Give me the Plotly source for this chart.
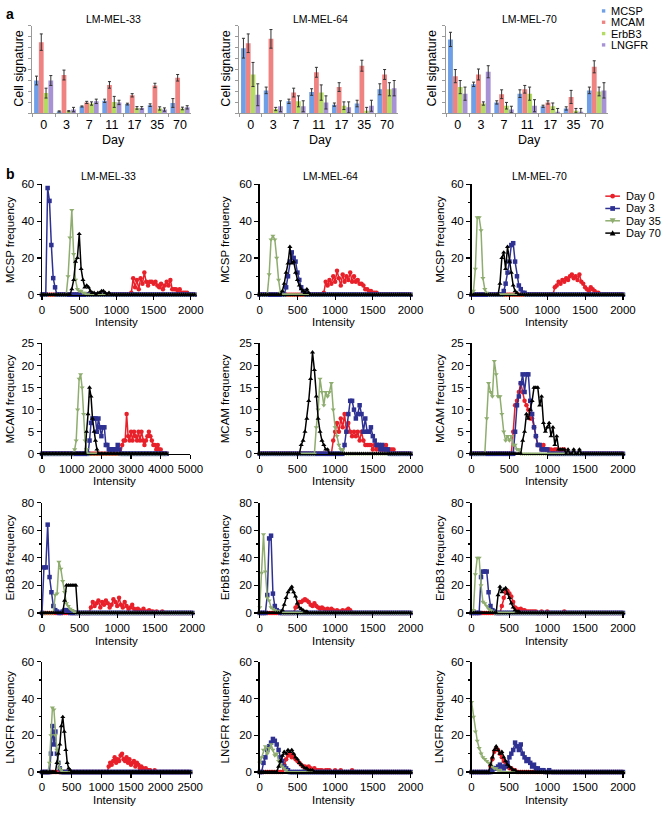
import plotly.graph_objects as go

W, H = 672, 815
FONT = "Liberation Sans, Arial, sans-serif"

# ---------------- Panel a data (cell signature, arbitrary units) ----------------
days = ["0", "3", "7", "11", "17", "35", "70"]
sig_markers = ["MCSP", "MCAM", "ErbB3", "LNGFR"]
sig_colors = ["#6f9fe6", "#ef8381", "#b4dc62", "#a792d6"]
cell_lines = ["LM-MEL-33", "LM-MEL-64", "LM-MEL-70"]

m33_mcsp = [3.0, 0.18, 0.63, 1.15, 0.85, 0.75, 0.95]
m33_mcsp_err = [0.4, 0.05, 0.05, 0.15, 0.08, 0.12, 0.4]
m33_mcam = [6.5, 3.5, 1.0, 2.6, 1.65, 2.55, 3.25]
m33_mcam_err = [0.75, 0.45, 0.1, 0.3, 0.15, 0.2, 0.3]
m33_erbb3 = [1.85, 0.2, 0.9, 1.05, 0.5, 0.45, 0.45]
m33_erbb3_err = [0.45, 0.05, 0.15, 0.5, 0.12, 0.15, 0.12]
m33_lngfr = [3.0, 0.35, 1.1, 1.0, 0.5, 0.35, 0.55]
m33_lngfr_err = [0.45, 0.2, 0.2, 0.2, 0.12, 0.15, 0.15]

m64_mcsp = [5.95, 2.1, 1.1, 1.95, 0.8, 0.9, 2.2]
m64_mcsp_err = [0.9, 0.3, 0.2, 0.3, 0.15, 0.3, 0.5]
m64_mcam = [6.4, 6.8, 1.9, 3.75, 2.4, 4.35, 3.55]
m64_mcam_err = [0.85, 0.85, 0.4, 0.45, 0.4, 0.5, 0.45]
m64_erbb3 = [3.55, 0.4, 1.1, 1.9, 0.7, 0.25, 2.2]
m64_erbb3_err = [1.1, 0.15, 0.5, 0.7, 0.35, 0.3, 0.6]
m64_lngfr = [1.7, 0.65, 0.65, 1.0, 0.55, 0.7, 2.3]
m64_lngfr_err = [1.0, 0.5, 0.5, 0.6, 0.5, 0.5, 0.7]

m70_mcsp = [6.75, 2.65, 1.0, 1.8, 0.65, 0.45, 2.1]
m70_mcsp_err = [0.65, 0.2, 0.15, 0.35, 0.1, 0.15, 0.3]
m70_mcam = [3.4, 3.55, 1.75, 2.2, 1.0, 1.5, 4.25]
m70_mcam_err = [0.6, 0.5, 0.4, 0.35, 0.15, 0.6, 0.55]
m70_erbb3 = [2.4, 0.9, 0.7, 1.8, 0.65, 0.25, 2.0]
m70_erbb3_err = [0.6, 0.15, 0.3, 0.6, 0.3, 0.2, 0.4]
m70_lngfr = [1.8, 3.8, 0.35, 0.7, 0.15, 0.15, 2.1]
m70_lngfr_err = [0.6, 0.55, 0.3, 0.55, 0.3, 0.3, 0.7]

bar_sets = [
    [(m33_mcsp, m33_mcsp_err), (m33_mcam, m33_mcam_err), (m33_erbb3, m33_erbb3_err), (m33_lngfr, m33_lngfr_err)],
    [(m64_mcsp, m64_mcsp_err), (m64_mcam, m64_mcam_err), (m64_erbb3, m64_erbb3_err), (m64_lngfr, m64_lngfr_err)],
    [(m70_mcsp, m70_mcsp_err), (m70_mcam, m70_mcam_err), (m70_erbb3, m70_erbb3_err), (m70_lngfr, m70_lngfr_err)],
]

# ---------------- Panel b data (histograms: start intensity, bin counts) ----------------
day_names = ["Day 0", "Day 3", "Day 35", "Day 70"]
day_colors = ["#e8202a", "#2e3192", "#8fad6f", "#000000"]
day_symbols = ["circle", "square", "triangle-down", "triangle-up"]

mcsp_33 = {"Day 0": (1200, [1, 9, 4, 8, 3, 9, 6, 12, 7, 5, 7, 7, 6, 7, 5, 4, 6, 3, 5, 7, 5, 8, 3, 3, 3, 2, 3, 1, 1, 1, 1]),
           "Day 3": (50, [0, 58, 51, 27, 9, 4, 0]),
           "Day 35": (325, [0, 10, 31, 46, 22, 8, 3, 2, 2, 1, 1]),
           "Day 70": (400, [3, 8, 18, 20, 33, 14, 8, 4, 5, 4, 2, 1, 1, 0, 1, 1, 2, 2, 1, 0, 1])}
mcsp_64 = {"Day 0": (825, [0, 1, 7, 5, 8, 6, 10, 7, 13, 9, 5, 11, 7, 10, 8, 12, 7, 10, 7, 8, 6, 6, 5, 3, 3, 2, 2, 1, 1, 1, 0]),
           "Day 3": (325, [0, 4, 10, 18, 23, 20, 18, 12, 8, 4, 2, 1, 0]),
           "Day 35": (100, [0, 11, 30, 32, 30, 20, 8, 1, 0]),
           "Day 70": (275, [0, 2, 6, 12, 17, 26, 17, 18, 12, 8, 5, 3, 2, 1, 3, 1, 0])}
mcsp_70 = {"Day 0": (1075, [0, 4, 5, 7, 6, 8, 7, 9, 8, 10, 11, 9, 10, 8, 11, 7, 6, 4, 3, 2, 4, 3, 2, 1, 1, 0]),
           "Day 3": (400, [0, 2, 6, 12, 18, 27, 28, 18, 10, 5, 3, 1, 1, 0]),
           "Day 35": (25, [2, 14, 42, 42, 35, 9, 3, 1, 0]),
           "Day 70": (350, [0, 6, 20, 23, 14, 26, 18, 12, 5, 2, 1, 0])}

mcam_33 = {"Day 0": (2650, [0, 2, 3, 3, 9, 4, 3, 5, 3, 5, 4, 3, 5, 3, 5, 3, 2, 3, 4, 5, 4, 3, 2, 2, 1, 2, 1, 1, 0]),
           "Day 3": (1550, [0, 3, 7, 8, 8, 8, 5, 8, 6, 4, 6, 6, 2, 2, 1, 1, 1, 1, 1, 1, 2, 1, 0]),
           "Day 35": (1050, [0, 1, 3, 10, 17, 18, 15, 9, 3, 1, 0]),
           "Day 70": (1450, [0, 5, 9, 15, 13, 8, 5, 3, 1, 0])}
mcam_64 = {"Day 0": (950, [0, 3, 5, 7, 5, 8, 6, 9, 5, 7, 5, 4, 5, 4, 5, 3, 5, 3, 2, 2, 2, 2, 1, 2, 1, 2, 1, 1, 1, 2, 1, 1, 1, 1, 0]),
           "Day 3": (1100, [0, 2, 5, 9, 12, 12, 10, 8, 9, 11, 9, 5, 8, 5, 5, 6, 4, 3, 2, 2, 1, 2, 1, 1, 1, 0]),
           "Day 35": (725, [0, 6, 10, 17, 14, 11, 14, 13, 14, 16, 10, 6, 4, 2, 1, 1, 0]),
           "Day 70": (525, [0, 2, 3, 5, 8, 12, 17, 23, 19, 13, 8, 5, 3, 2, 1, 1, 0])}
mcam_70 = {"Day 0": (525, [0, 5, 11, 12, 14, 16, 14, 12, 11, 10, 8, 8, 6, 4, 2, 2, 1, 2, 1, 1, 1, 1, 0, 1, 1, 1, 0, 1, 1, 0]),
           "Day 3": (550, [0, 5, 11, 13, 16, 18, 14, 18, 18, 12, 9, 6, 4, 2, 2, 1, 1, 1, 1, 0]),
           "Day 35": (175, [0, 8, 16, 14, 13, 21, 18, 13, 13, 9, 5, 3, 4, 3, 4, 2, 2, 1, 1, 0]),
           "Day 70": (650, [0, 3, 5, 9, 8, 10, 12, 15, 15, 15, 11, 13, 7, 5, 6, 7, 4, 6, 2, 4, 1, 1, 1, 1, 0, 1, 0, 0, 1, 0, 0, 1, 0])}

erbb3_33 = {"Day 0": (625, [0, 4, 8, 5, 7, 9, 4, 8, 6, 9, 7, 4, 6, 10, 8, 5, 11, 6, 4, 8, 5, 3, 4, 6, 3, 2, 3, 2, 1, 3, 1, 1, 2, 1, 1, 0, 1, 0, 0, 1, 0]),
            "Day 3": (25, [33, 33, 64, 26, 15, 5, 2, 1, 0, 0, 1, 2, 2, 1, 0]),
            "Day 35": (150, [0, 13, 14, 37, 32, 23, 15, 7, 5, 3, 2, 1, 0]),
            "Day 70": (275, [0, 9, 20, 20, 20, 20, 20, 20, 0])}
erbb3_64 = {"Day 0": (450, [0, 4, 6, 8, 8, 9, 10, 9, 8, 6, 5, 7, 5, 4, 3, 4, 3, 2, 3, 2, 3, 2, 1, 2, 1, 1, 2, 1, 2, 3, 2, 0]),
            "Day 3": (75, [0, 13, 54, 56, 14, 5, 2, 1, 0]),
            "Day 35": (0, [4, 29, 57, 30, 11, 9, 4, 3, 2, 1, 1, 1, 0]),
            "Day 70": (275, [0, 2, 6, 11, 15, 17, 19, 15, 12, 7, 4, 3, 2, 1, 1, 0])}
erbb3_70 = {"Day 0": (375, [0, 5, 11, 15, 16, 14, 12, 8, 4, 3, 2, 3, 2, 2, 1, 1, 1, 1, 1, 1, 0, 0, 1, 0, 0, 1, 0, 0, 0, 0, 0, 0, 0, 0, 1, 0]),
            "Day 3": (100, [0, 26, 30, 30, 30, 15, 5, 2, 1, 0]),
            "Day 35": (0, [0, 2, 28, 40, 40, 20, 8, 7, 5, 3, 2, 1, 0]),
            "Day 70": (325, [0, 13, 19, 15, 17, 18, 14, 11, 7, 4, 2, 1, 1, 0])}

lngfr_33 = {"Day 0": (1100, [0, 3, 5, 4, 6, 8, 5, 7, 6, 9, 10, 7, 6, 8, 5, 7, 4, 5, 6, 3, 5, 4, 2, 3, 2, 1, 2, 1, 1, 1, 0, 0, 1]),
            "Day 3": (125, [0, 10, 25, 15, 22, 10, 5, 2, 0]),
            "Day 35": (100, [0, 5, 20, 35, 34, 20, 12, 5, 2, 1, 0]),
            "Day 70": (225, [0, 5, 10, 15, 25, 30, 22, 12, 5, 2, 1, 0])}
lngfr_64 = {"Day 0": (300, [0, 4, 7, 9, 10, 8, 9, 7, 6, 5, 4, 3, 3, 2, 3, 2, 1, 2, 1, 1, 1, 1, 0, 1, 1, 1, 0, 0, 1, 0, 0, 1, 0, 0, 0, 0, 0, 1, 0]),
            "Day 3": (25, [0, 5, 8, 12, 14, 16, 18, 17, 15, 12, 8, 6, 3, 2, 1, 0]),
            "Day 35": (0, [5, 8, 12, 14, 10, 13, 15, 12, 9, 10, 6, 4, 3, 2, 1, 0]),
            "Day 70": (225, [0, 3, 6, 9, 11, 10, 12, 11, 12, 10, 8, 7, 5, 4, 3, 2, 2, 1, 1, 1, 0])}
lngfr_70 = {"Day 0": (225, [0, 3, 7, 11, 13, 12, 10, 8, 6, 5, 3, 2, 2, 1, 1, 0]),
            "Day 3": (250, [0, 1, 2, 2, 3, 4, 3, 2, 3, 5, 8, 10, 12, 16, 14, 12, 15, 10, 8, 6, 7, 5, 3, 4, 2, 2, 1, 1, 1, 0, 0, 1, 0]),
            "Day 35": (0, [38, 30, 22, 17, 13, 10, 8, 7, 6, 5, 4, 3, 2, 2, 1, 1, 0]),
            "Day 70": (225, [0, 4, 8, 12, 14, 12, 10, 11, 8, 6, 4, 3, 2, 1, 1, 0])}

row_labels = ["MCSP frequency", "MCAM frequency", "ErbB3 frequency", "LNGFR frequency"]
row_yrange = [60, 25, 80, 60]
row_ydtick = [20, 5, 20, 20]
# per panel: data, bin step, last bin, x range max, x tick step
hist_panels = [
    [(mcsp_33, 25, 2050, 2060, 500), (mcsp_64, 25, 2000, 2020, 500), (mcsp_70, 25, 2000, 2025, 500)],
    [(mcam_33, 50, 4200, 5000, 1000), (mcam_64, 25, 2000, 2020, 500), (mcam_70, 25, 2000, 2025, 500)],
    [(erbb3_33, 25, 2000, 2040, 500), (erbb3_64, 25, 2000, 2020, 500), (erbb3_70, 25, 2000, 2025, 500)],
    [(lngfr_33, 25, 2500, 2520, 500), (lngfr_64, 25, 2000, 2020, 500), (lngfr_70, 25, 2000, 2025, 500)],
]


def hist_series(start, vals, step, xmax):
    n = int(round(xmax / step)) + 1
    xs = [i * step for i in range(n)]
    ys = [0] * n
    k0 = int(round(start / step))
    for i, v in enumerate(vals):
        if 0 <= k0 + i < n:
            ys[k0 + i] = v
    return xs, ys


def fx(p):
    return p / W


def fy(p):
    return 1 - p / H


fig = go.Figure()
layout = dict(width=W, height=H, margin=dict(l=0, r=0, t=0, b=0),
              paper_bgcolor="white", plot_bgcolor="white", showlegend=False,
              barmode="group", bargap=0.16, bargroupgap=0.0, hovermode=False,
              font=dict(family=FONT, color="#000"))
annotations = []
shapes = []

# ---------------- Panel a ----------------
bar_x = [(30, 193), (242, 405), (454, 620)]
bar_y = (20, 109)
for i in range(3):
    ax = "" if i == 0 else str(i + 1)
    for j, (vals, errs) in enumerate(bar_sets[i]):
        fig.add_trace(go.Bar(x=days, y=vals, name=sig_markers[j],
                             marker=dict(color=sig_colors[j], line=dict(width=0)),
                             error_y=dict(type="data", array=errs, color="#333", thickness=1, width=1.5),
                             xaxis="x" + ax, yaxis="y" + ax, offsetgroup=str(j)))
    layout["xaxis" + ax] = dict(domain=[fx(bar_x[i][0]), fx(bar_x[i][1])], anchor="y" + ax,
                                type="category", showline=True, linecolor="#9a9a9a", linewidth=1,
                                ticks="outside", tickson="boundaries", ticklen=3, tickcolor="#9a9a9a",
                                tickangle=0, tickfont=dict(size=12.5), showgrid=False, zeroline=False)
    layout["yaxis" + ax] = dict(domain=[fy(bar_y[1]), fy(bar_y[0])], anchor="x" + ax,
                                range=[0, 8], dtick=1, showticklabels=False, showline=True,
                                linecolor="#9a9a9a", linewidth=1, ticks="outside", ticklen=3,
                                tickcolor="#9a9a9a", showgrid=False, zeroline=False)
    cx = (bar_x[i][0] + bar_x[i][1]) / 2 + 2
    annotations.append(dict(x=fx(cx), y=fy(13), xref="paper", yref="paper", text=cell_lines[i],
                            showarrow=False, font=dict(size=10.5), xanchor="center", yanchor="middle"))
    annotations.append(dict(x=fx(cx), y=fy(136), xref="paper", yref="paper", text="Day",
                            showarrow=False, font=dict(size=12.5), xanchor="center", yanchor="middle"))
    annotations.append(dict(x=fx(bar_x[i][0] - 14), y=fy(64), xref="paper", yref="paper",
                            text="Cell signature", textangle=-90, showarrow=False,
                            font=dict(size=12.5), xanchor="center", yanchor="middle"))

# legend for panel a
leg_a_y = [5, 16.5, 28, 39.5]
for j, name in enumerate(sig_markers):
    yc = leg_a_y[j]
    shapes.append(dict(type="rect", xref="paper", yref="paper", x0=fx(613.5), x1=fx(617),
                       y0=fy(yc + 1.7), y1=fy(yc - 1.7), fillcolor=sig_colors[j], line=dict(width=0)))
    annotations.append(dict(x=fx(621), y=fy(yc), xref="paper", yref="paper", text=name,
                            showarrow=False, font=dict(size=11), xanchor="left", yanchor="middle"))

# ---------------- Panel b ----------------
col_x = [(40, 197), (263, 419), (480, 637)]
col_x_alt = {(1, 0): (40, 192), (3, 0): (40, 193)}
row_top = [181, 342.5, 504, 665.5]
row_h = 112
col_titles_x = [108, 335, 550]
col_ylab_x = [7, 227, 447]

for r in range(4):
    for c in range(3):
        idx = 4 + r * 3 + c
        ax = str(idx)
        data, step, xmax, xr, xdt = hist_panels[r][c]
        for k, dn in enumerate(day_names):
            start, vals = data[dn]
            xs, ys = hist_series(start, vals, step, xmax)
            fig.add_trace(go.Scatter(x=xs, y=ys, mode="lines+markers", name=dn,
                                     line=dict(color=day_colors[k], width=1.5),
                                     marker=dict(symbol=day_symbols[k], size=4.5, color=day_colors[k],
                                                 line=dict(width=0)),
                                     cliponaxis=False, xaxis="x" + ax, yaxis="y" + ax))
        x0, x1 = col_x_alt.get((r, c), col_x[c])
        top = row_top[r]
        bot = top + row_h
        layout["xaxis" + ax] = dict(domain=[fx(x0), fx(x1)], anchor="y" + ax, range=[0, xr],
                                    dtick=xdt, tick0=0, showline=True, linecolor="black", linewidth=1.5,
                                    ticks="outside", ticklen=4, tickwidth=1.2, tickcolor="black",
                                    tickfont=dict(size=11.5), showgrid=False, zeroline=False)
        layout["yaxis" + ax] = dict(domain=[fy(bot), fy(top)], anchor="x" + ax,
                                    range=[0, row_yrange[r]], dtick=row_ydtick[r], showline=True,
                                    linecolor="black", linewidth=1.5, ticks="outside", ticklen=4,
                                    tickwidth=1.2, tickcolor="black", tickfont=dict(size=11.5),
                                    minor=dict(ticks="outside", ticklen=2, dtick=row_ydtick[r] / 2,
                                               tickcolor="black"),
                                    showgrid=False, zeroline=False)
        annotations.append(dict(x=fx((x0 + x1) / 2 - 2), y=fy(bot + 28), xref="paper", yref="paper",
                                text="Intensity", showarrow=False, font=dict(size=11.5),
                                xanchor="center", yanchor="middle"))
        annotations.append(dict(x=fx(col_ylab_x[c]), y=fy(top + row_h / 2), xref="paper", yref="paper",
                                text=row_labels[r], textangle=-90, showarrow=False,
                                font=dict(size=11.5), xanchor="center", yanchor="middle"))
        if r == 0:
            annotations.append(dict(x=fx(col_titles_x[c]), y=fy(173), xref="paper", yref="paper",
                                    text=cell_lines[c], showarrow=False, font=dict(size=10.5),
                                    xanchor="center", yanchor="middle"))

# legend for panel b
leg_b_y = [193, 205.5, 218, 230.5]
for k, dn in enumerate(day_names):
    yc = leg_b_y[k]
    shapes.append(dict(type="line", xref="paper", yref="paper", x0=fx(617), x1=fx(632),
                       y0=fy(yc), y1=fy(yc), line=dict(color=day_colors[k], width=1.5)))
    mx = 624.5
    s = 2.4
    if k == 0:
        shapes.append(dict(type="circle", xref="paper", yref="paper", x0=fx(mx - s), x1=fx(mx + s),
                           y0=fy(yc + s), y1=fy(yc - s), fillcolor=day_colors[k], line=dict(width=0)))
    elif k == 1:
        shapes.append(dict(type="rect", xref="paper", yref="paper", x0=fx(mx - s), x1=fx(mx + s),
                           y0=fy(yc + s), y1=fy(yc - s), fillcolor=day_colors[k], line=dict(width=0)))
    elif k == 2:
        path = "M %f,%f L %f,%f L %f,%f Z" % (fx(mx - 3), fy(yc - 2.5), fx(mx + 3), fy(yc - 2.5), fx(mx), fy(yc + 3))
        shapes.append(dict(type="path", xref="paper", yref="paper", path=path,
                           fillcolor=day_colors[k], line=dict(width=0)))
    else:
        path = "M %f,%f L %f,%f L %f,%f Z" % (fx(mx - 3), fy(yc + 2.5), fx(mx + 3), fy(yc + 2.5), fx(mx), fy(yc - 3))
        shapes.append(dict(type="path", xref="paper", yref="paper", path=path,
                           fillcolor=day_colors[k], line=dict(width=0)))
    annotations.append(dict(x=fx(636), y=fy(yc), xref="paper", yref="paper", text=dn,
                            showarrow=False, font=dict(size=11), xanchor="left", yanchor="middle"))

# panel letters
annotations.append(dict(x=fx(1), y=fy(8), xref="paper", yref="paper", text="<b>a</b>",
                        showarrow=False, font=dict(size=14), xanchor="left", yanchor="middle"))
annotations.append(dict(x=fx(1), y=fy(171), xref="paper", yref="paper", text="<b>b</b>",
                        showarrow=False, font=dict(size=14), xanchor="left", yanchor="middle"))

layout["annotations"] = annotations
layout["shapes"] = shapes
fig.update_layout(**layout)
fig.write_html("out.html", config={"displayModeBar": False, "staticPlot": True},
               post_script="document.body.style.margin='0';document.body.style.overflow='hidden';")
